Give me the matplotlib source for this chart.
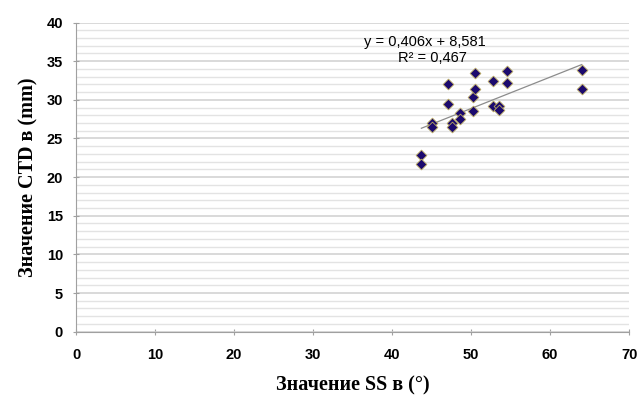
import numpy as np
import matplotlib.pyplot as plt
from matplotlib.ticker import MultipleLocator

# значения
ss = [43.7, 43.7, 45.0, 45.0, 47.1, 47.1, 47.6, 47.6, 48.6, 48.6, 50.2,
      50.2, 50.5, 50.5, 52.8, 52.8, 53.5, 53.5, 54.6, 54.6, 64.0, 64.0]
ctd = [22.9, 21.65, 27.0, 26.5, 32.1, 29.4, 27.0, 26.5, 28.25, 27.5, 30.4,
       28.55, 33.5, 31.35, 32.4, 29.2, 29.2, 28.7, 33.7, 32.2, 33.85, 31.35]
k, b = 0.406, 8.581
eq_text = "y = 0,406x + 8,581"
r2_text = "R² = 0,467"

fig = plt.figure(figsize=(6.4, 4.03), dpi=100)
ax = fig.add_axes([0.119, 0.177, 0.864, 0.767])

ax.yaxis.set_major_locator(MultipleLocator(5))
ax.yaxis.set_minor_locator(MultipleLocator(1))
ax.xaxis.set_major_locator(MultipleLocator(10))
ax.grid(True, axis='y', which='minor', color='#e3e3e3', lw=1.0)
ax.grid(True, axis='y', which='major', color='#d0d0d0', lw=1.1)
ax.set_axisbelow(True)

# линия тренда
xl = np.array([min(ss), max(ss)])
ax.plot(xl, k*xl + b, color='#8c8c8c', lw=0.9, zorder=2)
ax.scatter(ss, ctd, marker='D', s=30, color='#1c0a6e', edgecolors='#b8a860',
           linewidths=0.6, zorder=3)

ax.text(44.2, 37.5, eq_text, fontsize=10.5, ha='center', va='center',
        family='Liberation Sans')
ax.text(45.1, 35.4, r2_text, fontsize=10.5, ha='center', va='center',
        family='Liberation Sans')

ax.set_xlim(0, 70)
ax.set_ylim(0, 40)
for s in ['top', 'right']:
    ax.spines[s].set_visible(False)
for s in ['left', 'bottom']:
    ax.spines[s].set_color('#a0a0a0')
ax.tick_params(axis='both', which='major', direction='inout', length=5,
               color='#a0a0a0', labelsize=10.5)
ax.tick_params(axis='y', which='minor', length=0)
ax.tick_params(axis='x', pad=9)
ax.tick_params(axis='y', pad=7)
for lab in ax.get_xticklabels() + ax.get_yticklabels():
    lab.set_fontweight('bold')
    lab.set_family('Liberation Sans')

ax.set_xlabel('Значение SS в (°)', family='Liberation Serif', fontweight='bold',
              fontsize=14.5, labelpad=10)
ax.set_ylabel('Значение CTD в (mm)', family='Liberation Serif', fontweight='bold',
              fontsize=14.5, labelpad=6)

fig.savefig('out.png', dpi=100)
